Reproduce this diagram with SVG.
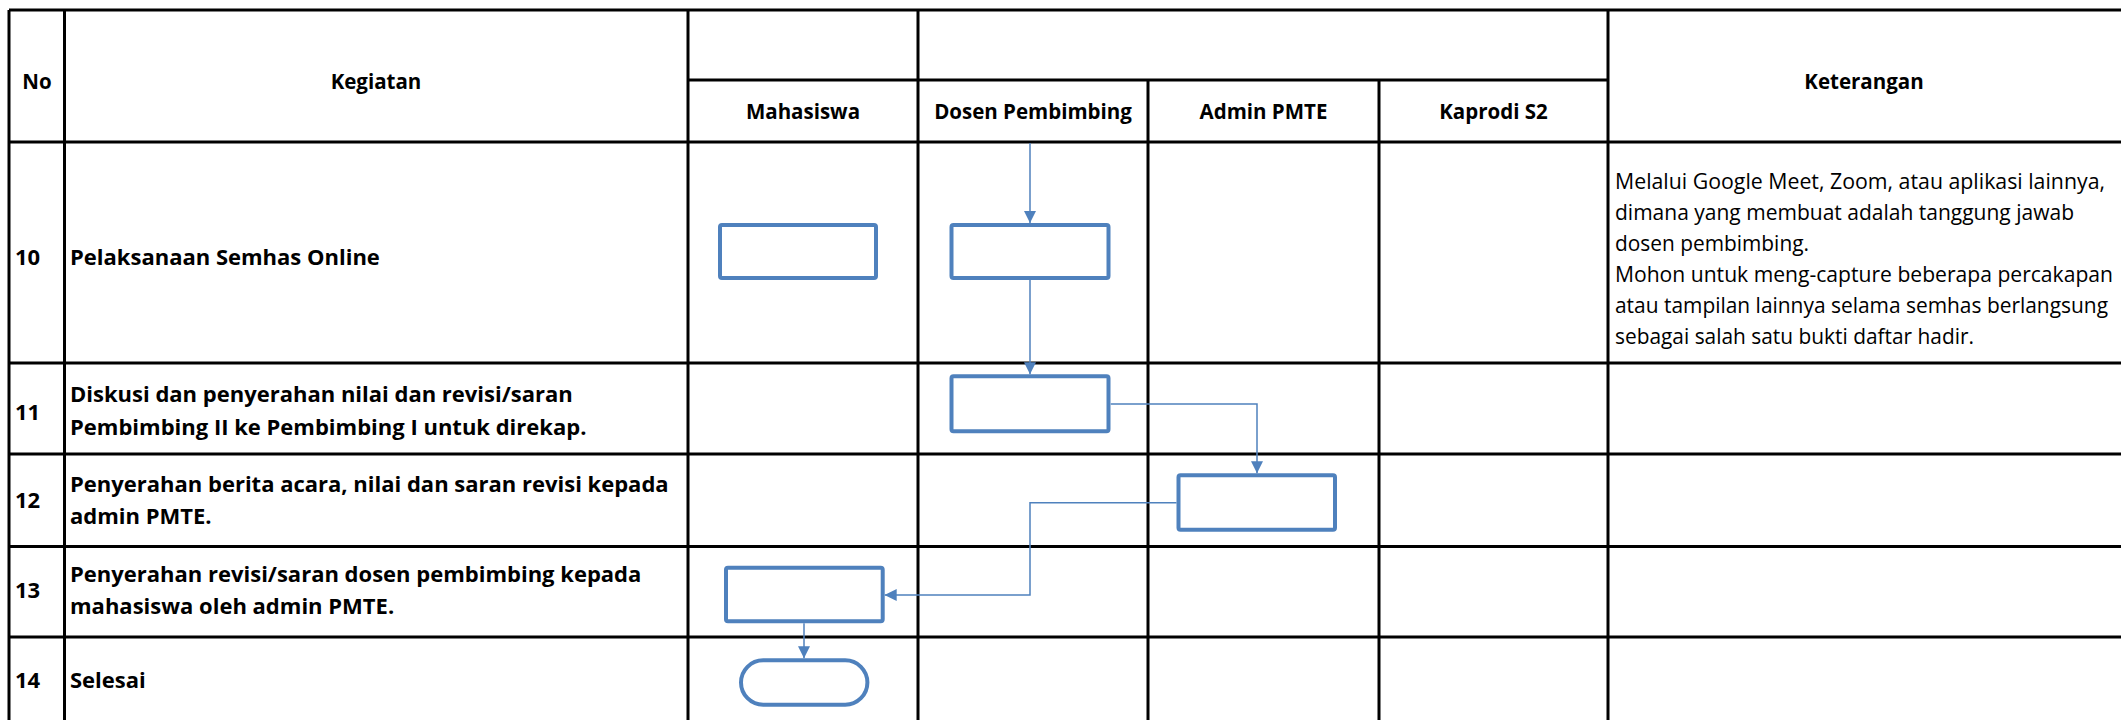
<svg xmlns="http://www.w3.org/2000/svg" width="2121" height="720" viewBox="0 0 2121 720">
<style>
.grid{stroke:#000;stroke-width:3;fill:none}
.t{font-family:"Open Sans","Liberation Sans",sans-serif;font-size:22px;fill:#000}
.h{font-size:20.5px}
.k{font-size:21.6px}
.b{font-weight:bold}
.c{text-anchor:middle}
.box{fill:#fff;stroke:#4F81BD;stroke-width:4}
.con{fill:none;stroke:#4F81BD;stroke-width:1.5}
</style>
<defs>
<marker id="arr" viewBox="0 0 12 12" refX="12" refY="6" markerWidth="12" markerHeight="12" markerUnits="userSpaceOnUse" orient="auto">
<path d="M0,0 L12,6 L0,12 z" fill="#4F81BD"/>
</marker>
</defs>
<rect width="2121" height="720" fill="#fff"/>
<g id="table">
<path class="grid" d="M9,10 H2125 M9,142 H2125 M9,363 H2125 M9,454 H2125 M9,546.5 H2125 M9,637 H2125 M688,80 H1608 M9,10 V725 M64.5,10 V725 M688,10 V725 M918,10 V725 M1148,80 V725 M1379,80 V725 M1608,10 V725"/>
<text class="t h b c" x="37" y="89">No</text>
<text class="t h b c" x="376" y="89">Kegiatan</text>
<text class="t h b c" x="803" y="119">Mahasiswa</text>
<text class="t h b c" x="1033" y="119">Dosen Pembimbing</text>
<text class="t h b c" x="1263.5" y="119">Admin PMTE</text>
<text class="t h b c" x="1493.5" y="119">Kaprodi S2</text>
<text class="t h b c" x="1864" y="89">Keterangan</text>
<text class="t b" x="15" y="265">10</text>
<text class="t b" x="70" y="265">Pelaksanaan Semhas Online</text>
<text class="t b" x="15" y="420">11</text>
<text class="t b" x="70" y="402">Diskusi dan penyerahan nilai dan revisi/saran</text>
<text class="t b" x="70" y="435">Pembimbing II ke Pembimbing I untuk direkap.</text>
<text class="t b" x="15" y="508">12</text>
<text class="t b" x="70" y="492">Penyerahan berita acara, nilai dan saran revisi kepada</text>
<text class="t b" x="70" y="524">admin PMTE.</text>
<text class="t b" x="15" y="598">13</text>
<text class="t b" x="70" y="582">Penyerahan revisi/saran dosen pembimbing kepada</text>
<text class="t b" x="70" y="614">mahasiswa oleh admin PMTE.</text>
<text class="t b" x="15" y="688">14</text>
<text class="t b" x="70" y="688">Selesai</text>
<text class="t k" x="1615" y="189" textLength="490" lengthAdjust="spacingAndGlyphs">Melalui Google Meet, Zoom, atau aplikasi lainnya,</text>
<text class="t k" x="1615" y="220" textLength="459" lengthAdjust="spacingAndGlyphs">dimana yang membuat adalah tanggung jawab</text>
<text class="t k" x="1615" y="251" textLength="194" lengthAdjust="spacingAndGlyphs">dosen pembimbing.</text>
<text class="t k" x="1615" y="282" textLength="498" lengthAdjust="spacingAndGlyphs">Mohon untuk meng-capture beberapa percakapan</text>
<text class="t k" x="1615" y="313" textLength="493" lengthAdjust="spacingAndGlyphs">atau tampilan lainnya selama semhas berlangsung</text>
<text class="t k" x="1615" y="344" textLength="359" lengthAdjust="spacingAndGlyphs">sebagai salah satu bukti daftar hadir.</text>
</g>
<g id="n-mhs-10"><rect class="box" x="720" y="225" width="156" height="53" rx="2"/></g>
<g id="n-dsn-10"><rect class="box" x="951.5" y="225" width="157" height="53" rx="2"/></g>
<g id="n-dsn-11"><rect class="box" x="951.5" y="376.3" width="157" height="55" rx="2"/></g>
<g id="n-adm-12"><rect class="box" x="1178.5" y="475.3" width="156.5" height="54.4" rx="2"/></g>
<g id="n-mhs-13"><rect class="box" x="726" y="567.7" width="156.7" height="53.6" rx="2"/></g>
<g id="n-end"><rect class="box" x="741" y="660.3" width="126.4" height="44.4" rx="22.2"/></g>
<g id="connectors">
<path class="con" marker-end="url(#arr)" d="M1030,143 V223"/>
<path class="con" marker-end="url(#arr)" d="M1030,280 V374.3"/>
<path class="con" marker-end="url(#arr)" d="M1110.7,404 H1257 V473.3"/>
<path class="con" marker-end="url(#arr)" d="M1176.5,502.7 H1030 V595 H884.7"/>
<path class="con" marker-end="url(#arr)" d="M804,623.3 V658.3"/>
</g>
</svg>
